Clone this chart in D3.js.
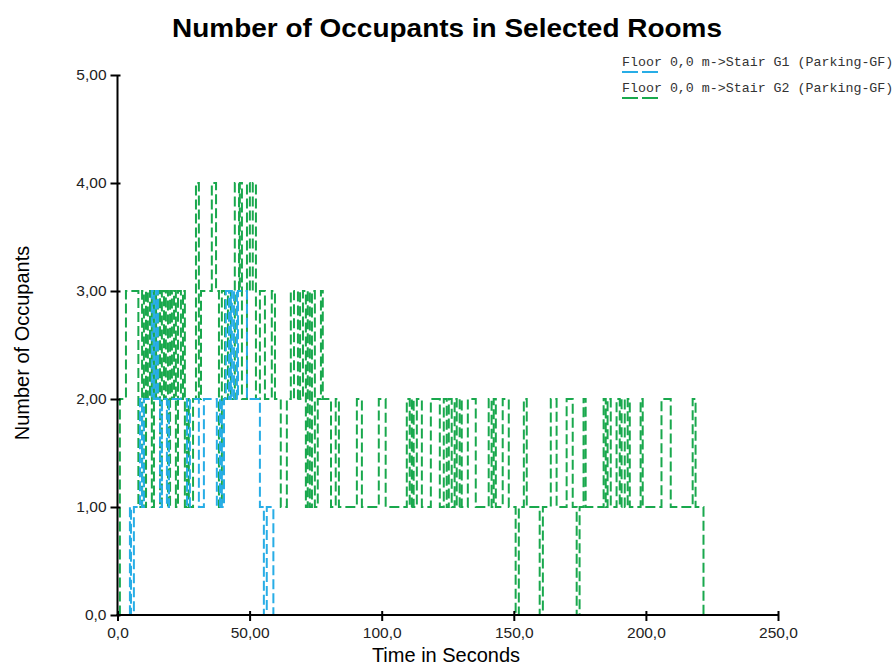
<!DOCTYPE html>
<html>
<head>
<meta charset="utf-8">
<script src="https://cdn.jsdelivr.net/npm/d3@7/dist/d3.min.js"></script>
<style>
  html, body { margin: 0; padding: 0; background: #fff; }
  svg { display: block; }
</style>
</head>
<body>
<svg id="chart" width="896" height="666"></svg>
<script>
// ---------- DATA ----------
const chartTitle = "Number of Occupants in Selected Rooms";
const xAxisTitle = "Time in Seconds";
const yAxisTitle = "Number of Occupants";

const seriesNames = [
  "Floor 0,0 m->Stair G1 (Parking-GF)",
  "Floor 0,0 m->Stair G2 (Parking-GF)"
];

const xTickValues = [0, 50, 100, 150, 200, 250];
const xTickLabels = ["0,0", "50,00", "100,0", "150,0", "200,0", "250,0"];
const yTickValues = [0, 1, 2, 3, 4, 5];
const yTickLabels = ["0,0", "1,00", "2,00", "3,00", "4,00", "5,00"];

// Stair G1 (blue): change points (time in s, occupants)
const g1Times  = [4.6, 4.7, 5.1, 6.2, 8.5, 9.3, 10.0, 13.0, 13.8, 14.6, 15.3, 16.1, 16.8, 18.7, 19.5,
                  26.3, 27.4, 30.8, 32.7, 37.6, 38.8, 39.5, 40.3, 41.0, 42.2, 42.9, 43.3, 44.1, 45.2,
                  45.6, 49.0, 53.9, 55.4, 56.5, 59.0];
const g1Values = [0, 1, 0, 1, 2, 1, 2, 3, 2, 3, 2, 1, 2, 1, 2,
                  1, 2, 1, 2, 1, 2, 1, 2, 3, 2, 3, 2, 3, 2,
                  3, 2, 1, 0, 1, 0];

// Stair G2 (green): change points (time in s, occupants)
const g2Times  = [0.7, 0.9, 3.2, 7.9, 9.3, 10.0, 10.8, 11.5, 12.3, 13.0, 13.8, 14.6, 15.3, 16.1, 16.8,
                  17.6, 18.3, 19.1, 19.9, 20.6, 21.4, 22.1, 22.9, 24.0, 24.8, 25.5, 26.3, 27.0, 28.6,
                  29.7, 30.8, 31.6, 35.7, 37.3, 38.4, 39.5, 40.7, 41.8, 42.9, 44.4, 46.0, 46.3, 47.1,
                  49.0, 50.1, 51.2, 52.4, 53.9, 55.8, 58.4, 59.6, 61.8, 64.1, 65.6, 66.8, 68.3, 69.1,
                  70.2, 71.3, 72.0, 72.8, 73.6, 74.7, 75.8, 77.0, 77.7, 80.8, 82.6, 83.8, 90.6, 92.5,
                  98.9, 101.5, 109.5, 110.6, 111.4, 112.1, 113.3, 115.2, 118.6, 122.0, 123.5, 124.6,
                  125.4, 126.5, 127.6, 128.4, 129.5, 130.3, 132.6, 135.6, 140.5, 141.6, 142.4, 143.2,
                  145.8, 148.1, 150.7, 151.9, 153.8, 154.9, 159.8, 161.0, 164.0, 166.2, 170.0, 172.3,
                  173.8, 174.9, 176.4, 177.2, 184.0, 184.8, 185.5, 186.7, 188.9, 190.1, 190.8, 192.0,
                  193.1, 193.9, 198.0, 198.8, 205.9, 209.4, 217.7, 218.8, 221.8];
const g2Values = [0, 2, 3, 1, 3, 1, 3, 2, 3, 1, 3, 2, 3, 1, 3,
                  2, 3, 1, 3, 2, 3, 1, 3, 2, 3, 1, 2, 1, 2,
                  4, 2, 3, 4, 3, 1, 3, 2, 3, 2, 4, 3, 4, 2,
                  4, 3, 4, 2, 3, 2, 3, 2, 1, 2, 3, 2, 3, 2,
                  3, 1, 3, 1, 3, 1, 2, 3, 2, 1, 2, 1, 2, 1,
                  2, 1, 2, 1, 2, 1, 2, 1, 2, 1, 2, 1,
                  2, 1, 2, 1, 2, 1, 2, 1, 2, 1, 2, 1,
                  2, 1, 0, 1, 2, 1, 0, 1, 2, 1, 2, 1,
                  0, 1, 2, 1, 2, 1, 2, 1, 2, 1, 2, 1,
                  2, 1, 2, 1, 2, 1, 2, 1, 0];

const seriesColors = ["#27ade6", "#19a84d"];

// ---------- CHART ----------
const svg = d3.select("#chart");
const margin = { left: 117.5, right: 118, top: 75, bottom: 51 };
const W = 896, H = 666;

const x = d3.scaleLinear().domain([0, 250]).range([margin.left, W - margin.right]);
const y = d3.scaleLinear().domain([0, 5]).range([H - margin.bottom, margin.top]);

const sansFont = "'Liberation Sans', Arial, sans-serif";

// Title
svg.append("text")
  .attr("x", 447).attr("y", 37)
  .attr("text-anchor", "middle")
  .attr("textLength", 550)
  .attr("lengthAdjust", "spacingAndGlyphs")
  .style("font-family", sansFont)
  .style("font-weight", "bold")
  .style("font-size", "26px")
  .style("fill", "#000")
  .text(chartTitle);

// Series lines
const line = d3.line()
  .x(d => x(d[0]))
  .y(d => y(d[1]))
  .curve(d3.curveStepAfter);

const series = [
  { name: seriesNames[0], pts: d3.zip(g1Times, g1Values), color: seriesColors[0] },
  { name: seriesNames[1], pts: d3.zip(g2Times, g2Values), color: seriesColors[1] }
];

[series[1], series[0]].forEach(s => {
  svg.append("path")
    .attr("d", line(s.pts))
    .attr("fill", "none")
    .attr("stroke", s.color)
    .attr("stroke-width", 2)
    .attr("stroke-dasharray", "10,4");
});

// Axes
const xAxis = d3.axisBottom(x)
  .tickValues(xTickValues)
  .tickFormat((d, i) => xTickLabels[i])
  .tickSizeInner(6).tickSizeOuter(0).tickPadding(6);
const gx = svg.append("g").attr("transform", `translate(0,${y(0)})`).call(xAxis);

const yAxis = d3.axisLeft(y)
  .tickValues(yTickValues)
  .tickFormat((d, i) => yTickLabels[i])
  .tickSizeInner(6).tickSizeOuter(0).tickPadding(5);
const gy = svg.append("g").attr("transform", `translate(${x(0)},0)`).call(yAxis);

[gx, gy].forEach(g => {
  g.select(".domain").attr("stroke", "#000").attr("stroke-width", 2);
  g.selectAll(".tick line").attr("stroke", "#000").attr("stroke-width", 2);
  g.selectAll(".tick text")
    .style("font-family", sansFont)
    .style("font-size", "15.5px")
    .style("fill", "#222");
});
gx.selectAll(".tick line").attr("y1", -4).attr("y2", 6);
gy.selectAll(".tick line").attr("x1", -7).attr("x2", 3);
gx.select(".domain").attr("d", `M${x(0) - 1},0H${x(250)}`);
gy.select(".domain").attr("d", `M0,${y(0) + 1}V${y(5)}`);

// Axis titles
svg.append("text")
  .attr("x", 446).attr("y", 662)
  .attr("text-anchor", "middle")
  .style("font-family", sansFont)
  .style("font-size", "20px")
  .style("fill", "#000")
  .text(xAxisTitle);

svg.append("text")
  .attr("transform", `translate(29,343) rotate(-90)`)
  .attr("text-anchor", "middle")
  .style("font-family", sansFont)
  .style("font-size", "20px")
  .style("fill", "#000")
  .text(yAxisTitle);

// Legend
const monoFont = "'Liberation Mono', 'Courier New', monospace";
series.forEach((s, i) => {
  const ly = 66 + i * 26;
  svg.append("text")
    .attr("x", 622).attr("y", ly)
    .style("font-family", monoFont)
    .style("font-size", "13.3px")
    .style("fill", "#333")
    .text(s.name);
  svg.append("line")
    .attr("x1", 622).attr("x2", 658)
    .attr("y1", ly + 6).attr("y2", ly + 6)
    .attr("stroke", s.color)
    .attr("stroke-width", 2)
    .attr("stroke-dasharray", "16,4");
});
</script>
</body>
</html>
